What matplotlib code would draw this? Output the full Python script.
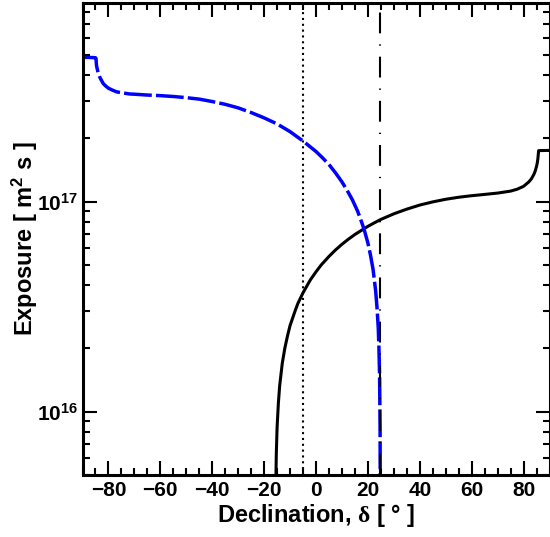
import math
import matplotlib
matplotlib.use("Agg")
import matplotlib.pyplot as plt
from matplotlib.ticker import MultipleLocator, LogLocator, NullFormatter, FuncFormatter

# exposure vs declination, southern site (blue dashed)
dec_south = [-90, -88, -86, -85, -84.8, -84.65, -84.5, -84, -83.5, -83, -82,
             -81, -80, -78.5, -77, -76, -74, -72, -70, -65, -60, -55, -50,
             -45, -40, -35, -30, -25, -20, -15, -10, -5, 0, 2.5, 5, 7.5, 10,
             12, 14, 16, 17, 18.5, 20, 21, 22, 23, 23.5, 24, 24.25, 24.5,
             24.7, 24.79]
exp_south = [4.85e17, 4.85e17, 4.84e17, 4.83e17, 4.80e17, 4.50e17, 4.37e17,
             4.11e17, 3.95e17, 3.83e17, 3.64e17, 3.54e17, 3.46e17, 3.39e17,
             3.33e17, 3.31e17, 3.28e17, 3.25e17, 3.24e17, 3.21e17, 3.19e17,
             3.16e17, 3.12e17, 3.07e17, 2.99e17, 2.90e17, 2.79e17, 2.65e17,
             2.50e17, 2.34e17, 2.15e17, 1.94e17, 1.73e17, 1.615e17, 1.50e17,
             1.37e17, 1.24e17, 1.13e17, 1.02e17, 9.02e16, 8.37e16, 7.40e16,
             6.35e16, 5.56e16, 4.75e16, 3.75e16, 3.15e16, 2.5e16, 2.02e16,
             1.5e16, 8.5e15, 3.0e15]

# exposure vs declination, northern site (black solid)
dec_north = [-15.5, -15.3, -15, -14.5, -14, -13, -12, -11, -10, -8, -7, -5,
             -3, -2, 0, 2, 5, 7.5, 10, 12.5, 15, 17.5, 20, 22.5, 25, 30, 35,
             40, 45, 50, 55, 60, 65, 70, 75, 77.5, 80, 82, 83, 84, 84.5, 85,
             85.25, 85.5, 85.6, 85.8, 86, 88, 90]
exp_north = [4.4e15, 6.3e15, 8.4e15, 1.10e16, 1.33e16, 1.70e16, 2.01e16,
             2.29e16, 2.57e16, 3.03e16, 3.27e16, 3.68e16, 4.07e16, 4.27e16,
             4.63e16, 4.99e16, 5.48e16, 5.88e16, 6.26e16, 6.62e16, 6.97e16,
             7.29e16, 7.62e16, 7.92e16, 8.22e16, 8.74e16, 9.20e16, 9.62e16,
             9.96e16, 1.025e17, 1.048e17, 1.066e17, 1.081e17, 1.097e17,
             1.121e17, 1.144e17, 1.181e17, 1.239e17, 1.281e17, 1.348e17,
             1.398e17, 1.469e17, 1.518e17, 1.589e17, 1.634e17, 1.745e17,
             1.747e17, 1.749e17, 1.75e17]

# reference declinations
dec_dotted = -5
dec_dashdot = 24.8

plt.rcParams["font.family"] = ["Liberation Sans", "DejaVu Sans"]
plt.rcParams["font.weight"] = "bold"
plt.rcParams["mathtext.fontset"] = "custom"
plt.rcParams["mathtext.bf"] = "Liberation Sans:bold"
plt.rcParams["mathtext.rm"] = "Liberation Serif"
plt.rcParams["mathtext.it"] = "Liberation Sans:italic"

fig = plt.figure(figsize=(5.5, 5.37), dpi=100)
ax = fig.add_axes([82.5 / 550, 62 / 537, 467 / 550, 472 / 537])

ax.plot(dec_north, exp_north, color="black", linewidth=2.2,
        solid_joinstyle="round")
ax.plot(dec_south, exp_south, color="blue", linewidth=2.5,
        linestyle=(0, (8, 1.2)))
ax.axvline(dec_dotted, color="black", linewidth=1.5, linestyle=(0, (1, 1.8)))
ax.axvline(dec_dashdot, color="black", linewidth=1.5,
           linestyle=(0, (10, 5.3, 0.6, 5.3)))

ax.set_yscale("log")
ax.set_xlim(-90, 90)
ax.set_ylim(5e15, 8.8e17)

ax.xaxis.set_major_locator(MultipleLocator(20))
ax.xaxis.set_minor_locator(MultipleLocator(5))
ax.yaxis.set_major_locator(LogLocator(base=10))
ax.yaxis.set_minor_locator(LogLocator(base=10, subs=range(2, 10)))
ax.yaxis.set_minor_formatter(NullFormatter())
ax.yaxis.set_major_formatter(
    FuncFormatter(lambda v, pos: r"$\mathbf{10^{%d}}$" % round(math.log10(v))))

ax.tick_params(which="both", direction="in", top=True, right=True, width=1.5,
               labelsize=15)
ax.tick_params(which="major", length=10)
ax.tick_params(which="minor", length=5)
ax.tick_params(axis="x", pad=4)
ax.tick_params(axis="y", pad=3)
for s in ax.spines.values():
    s.set_linewidth(2.2)

ax.set_xlabel(r"Declination, $\mathrm{\delta}$ [ ° ]", fontsize=17,
              fontweight="bold", labelpad=2)
ax.set_ylabel(r"Exposure [ m$^{\mathbf{2}}$ s ]", fontsize=17,
              fontweight="bold")
ax.yaxis.set_label_coords(-0.092, 0.5)

fig.savefig("out.png", dpi=100)
